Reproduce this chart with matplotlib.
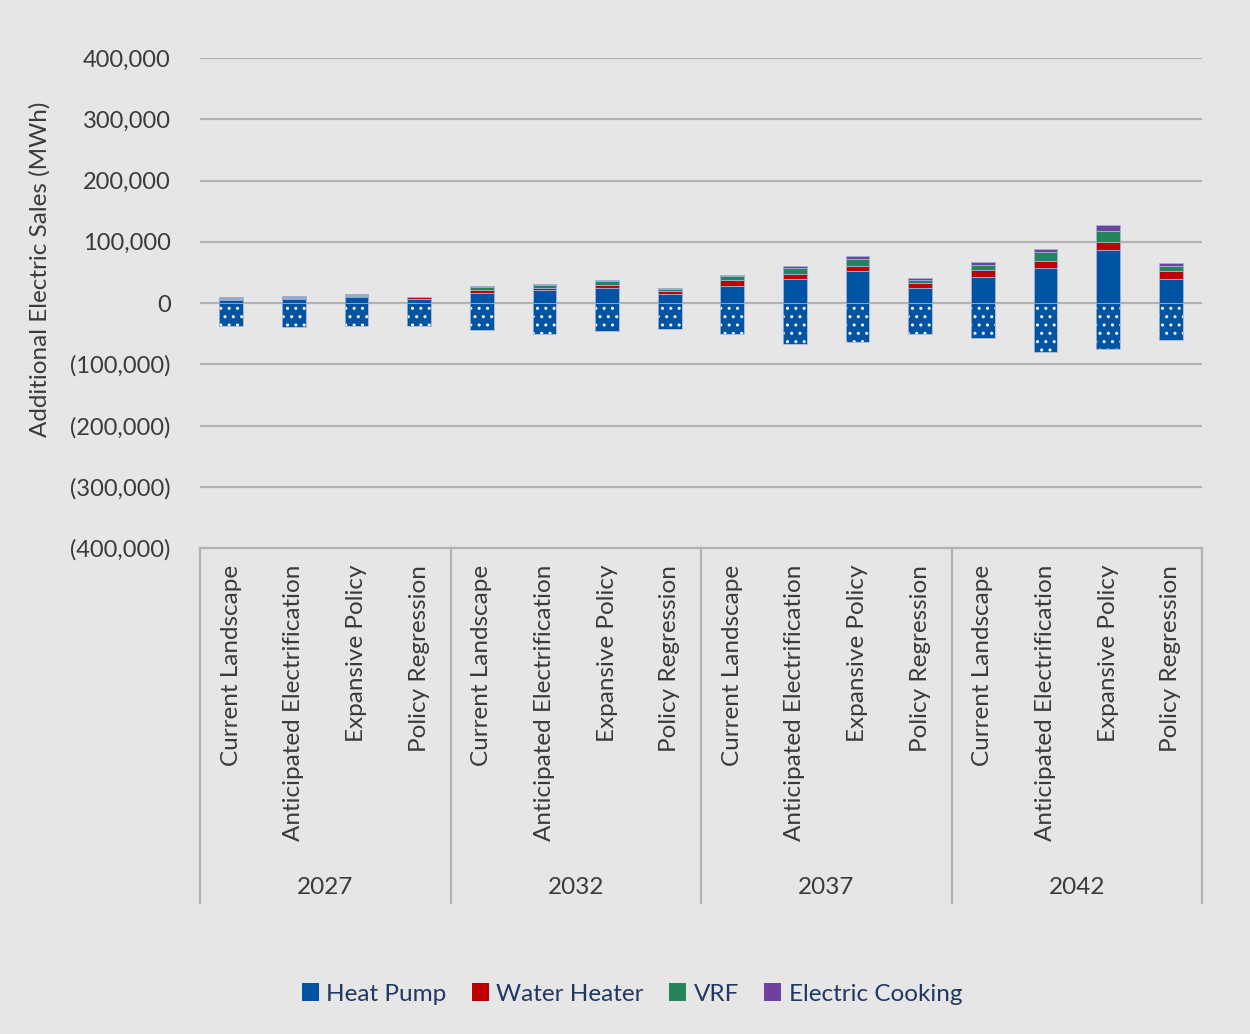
import matplotlib
matplotlib.use('Agg')
import matplotlib.pyplot as plt
import matplotlib.transforms as mtransforms
from matplotlib.patches import Patch
from matplotlib.ticker import FuncFormatter
import numpy as np

plt.rcParams['font.family'] = ['Lato', 'DejaVu Sans']
plt.rcParams['hatch.linewidth'] = 1.0

years = ['2027', '2032', '2037', '2042']
scenarios = ['Current Landscape', 'Anticipated Electrification', 'Expansive Policy', 'Policy Regression']

# MWh, 4 scenarios per year, in year order
heat_pump = [5500, 7000, 10300, 6500,
             16900, 20700, 25000, 14700,
             28300, 39200, 51700, 24500,
             43000, 57700, 87000, 38600]
water_heater = [1000, 1600, 500, 2500,
                3800, 4400, 4400, 4400,
                8700, 8700, 8700, 8200,
                10900, 10300, 12500, 13100]
vrf = [1500, 1000, 2500, 500,
       4900, 4400, 6000, 3800,
       6500, 9800, 12000, 4900,
       8200, 14700, 18500, 8200]
electric_cooking = [1000, 1500, 1500, 1000,
                    2000, 2200, 2200, 2200,
                    2200, 2200, 4400, 3800,
                    4400, 4900, 8700, 4900]
# negative side of heat pump sales (drawn dotted)
heat_pump_reduction = [-37500, -39000, -37500, -37500,
                       -43500, -50000, -45700, -41900,
                       -50600, -67500, -63100, -51100,
                       -57100, -80000, -75600, -60900]

colors = {'Heat Pump': '#0154a4', 'Water Heater': '#c00000',
          'VRF': '#26845a', 'Electric Cooking': '#7040a0'}
bg = '#e6e6e6'
grid_c = '#b3b3b3'
text_c = '#3a3a3a'
fs = 17.5

fig = plt.figure(figsize=(12.5, 10.34), dpi=100, facecolor=bg)
ax = fig.add_axes([200 / 1250, 1 - 548 / 1034, 1002 / 1250, 490 / 1034])
ax.set_facecolor(bg)

x = np.arange(len(heat_pump))
w = 0.38
edge = '#9fb3d6'

bottom = np.zeros(len(x))
for name, vals in [('Heat Pump', heat_pump), ('Water Heater', water_heater),
                   ('VRF', vrf), ('Electric Cooking', electric_cooking)]:
    ax.bar(x, vals, w, bottom=bottom, color=colors[name], edgecolor=edge,
           linewidth=0.6, zorder=3)
    bottom += np.array(vals)

# dotted fill, then outline on top
ax.bar(x, heat_pump_reduction, w, facecolor=colors['Heat Pump'], edgecolor='white',
       linewidth=0, hatch='..', zorder=3)
ax.bar(x, heat_pump_reduction, w, facecolor='none', edgecolor=edge,
       linewidth=0.6, zorder=4)

ax.set_xlim(-0.5, len(x) - 0.5)
ax.set_ylim(-400000, 400000)
ax.set_yticks(np.arange(-400000, 400001, 100000))
ax.yaxis.set_major_formatter(FuncFormatter(
    lambda v, p: f'({abs(v):,.0f})' if v < 0 else f'{v:,.0f}'))
ax.tick_params(axis='y', length=0, pad=21, labelsize=17, labelcolor=text_c)
ax.set_xticks([])
ax.grid(axis='y', color=grid_c, linewidth=1.6, zorder=0)
for s in ax.spines.values():
    s.set_visible(False)

# two-level category axis below the plot
trans = mtransforms.blended_transform_factory(ax.transData, fig.transFigure)
for i in range(len(x)):
    ax.text(x[i], 1 - 565 / 1034, scenarios[i % 4], transform=trans, rotation=90,
            ha='center', va='top', fontsize=fs, color=text_c)
for j, yr in enumerate(years):
    ax.text(4 * j + 1.5, 1 - 888 / 1034, yr, transform=trans, ha='center',
            va='center', fontsize=fs, color=text_c)
for b in np.arange(-0.5, len(x), 4):
    ax.plot([b, b], [1 - 548 / 1034, 1 - 903 / 1034], transform=trans,
            color=grid_c, linewidth=1.6, clip_on=False)
ax.plot([-0.5, len(x) - 0.5], [1 - 548 / 1034, 1 - 548 / 1034], transform=trans,
        color=grid_c, linewidth=1.6, clip_on=False)

fig.text(40 / 1250, 1 - 269 / 1034, 'Additional Electric Sales (MWh)', rotation=90,
         ha='center', va='center', fontsize=fs, color=text_c)

handles = [Patch(facecolor=c, label=n) for n, c in colors.items()]
leg = fig.legend(handles=handles, loc='center', bbox_to_anchor=(632 / 1250, 1 - 994 / 1034),
                 ncol=4, frameon=False, fontsize=fs, handlelength=0.7, handleheight=0.7,
                 handletextpad=0.3, columnspacing=1.05)
for t in leg.get_texts():
    t.set_color('#1f3864')

fig.savefig('out.png', dpi=100, facecolor=bg)
